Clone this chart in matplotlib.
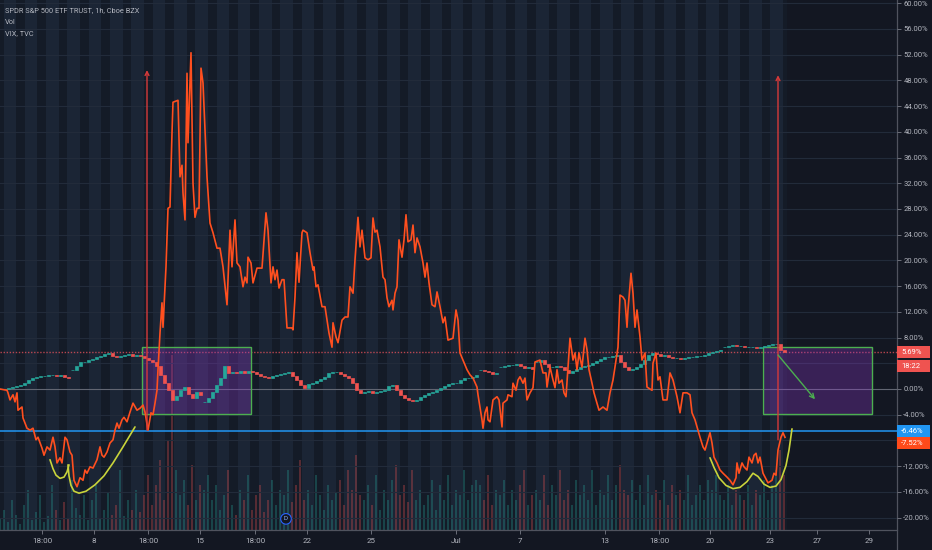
import matplotlib
matplotlib.use('Agg')
import matplotlib.pyplot as plt
import numpy as np
from matplotlib.patches import Rectangle
from matplotlib.lines import Line2D
from matplotlib.transforms import blended_transform_factory

plt.rcParams['font.family'] = ['Roboto', 'DejaVu Sans']

# ---------------- data ----------------
# VIX % change (line), time position in chart time units
vix_time = [0, 7, 8, 10, 13, 15, 17, 18, 22, 23,
            27, 30, 33, 36, 38, 42, 44, 47, 50, 53,
            55, 57, 60, 62, 65, 67, 70, 72, 74, 77,
            80, 83, 85, 87, 90, 93, 97, 100, 102, 104,
            107, 110, 113, 115, 117, 119, 122, 124, 127, 130,
            133, 137, 140, 143, 145, 148, 151, 153, 155, 157,
            158, 160, 162, 163, 166, 168, 170, 172, 173, 178,
            180, 182, 183, 185, 187, 188, 191, 193, 195, 197,
            199, 201, 203, 207, 210, 213, 217, 220, 223, 227,
            230, 232, 235, 237, 240, 243, 245, 247, 248, 251,
            253, 257, 262, 266, 268, 271, 273, 275, 277, 279,
            282, 284, 287, 292, 293, 295, 297, 299, 302, 303,
            307, 310, 313, 314, 316, 318, 322, 325, 327, 329,
            332, 333, 336, 338, 342, 345, 348, 350, 353, 355,
            358, 360, 362, 365, 368, 371, 373, 375, 377, 380,
            383, 385, 387, 389, 392, 393, 395, 397, 399, 402,
            404, 406, 408, 411, 413, 415, 417, 420, 423, 425,
            427, 429, 432, 435, 437, 440, 443, 445, 448, 453,
            456, 458, 460, 463, 467, 470, 473, 477, 478, 480,
            482, 483, 485, 487, 488, 490, 493, 497, 499, 502,
            503, 507, 508, 512, 513, 516, 518, 520, 523, 525,
            527, 530, 533, 535, 540, 543, 546, 547, 550, 553,
            555, 557, 559, 562, 564, 566, 568, 570, 573, 575,
            577, 579, 582, 585, 587, 589, 592, 594, 597, 599,
            603, 607, 610, 613, 616, 618, 620, 623, 625, 627,
            628, 631, 633, 635, 637, 640, 642, 645, 647, 652,
            653, 656, 658, 660, 663, 667, 670, 673, 677, 680,
            683, 687, 690, 692, 695, 698, 700, 703, 705, 707,
            710, 712, 714, 717, 720, 723, 727, 730, 733, 736,
            737, 739, 742, 744, 747, 749, 752, 754, 756, 758,
            760, 763, 765, 768, 772, 774, 776, 778, 781, 783, 785]
vix_pct = [0.0, -0.2, -0.6, -1.7, -0.9, -2.0, -0.6, -3.3, -2.8, -4.5,
           -6.1, -6.4, -6.1, -7.9, -7.5, -9.2, -10.3, -9.0, -9.5, -7.5,
           -9.0, -11.5, -10.7, -11.5, -7.5, -7.9, -9.8, -10.3, -14.2, -15.2,
           -13.8, -14.2, -12.6, -13.1, -12.1, -12.3, -11.0, -9.0, -10.3, -10.6,
           -9.8, -8.4, -7.9, -6.4, -5.3, -6.1, -4.8, -4.4, -5.1, -3.6,
           -2.2, -3.3, -3.0, -2.5, -3.6, -6.4, -3.7, -4.0, -2.2, -0.2,
           3.0, 8.7, 13.4, 9.6, 19.0, 28.1, 28.3, 39.8, 44.6, 44.9,
           33.0, 34.8, 30.5, 26.3, 49.1, 38.3, 52.3, 32.0, 26.7, 28.1,
           28.1, 49.9, 47.6, 33.0, 25.8, 24.3, 21.9, 21.9, 19.0, 13.1,
           24.7, 19.0, 26.3, 19.6, 19.0, 15.9, 17.4, 16.5, 20.5, 19.6,
           16.5, 18.8, 18.8, 27.4, 24.7, 16.5, 19.0, 17.0, 18.5, 15.7,
           17.0, 17.0, 9.5, 9.5, 9.2, 14.3, 21.2, 16.6, 24.3, 24.7,
           24.3, 21.2, 18.5, 19.0, 15.9, 16.2, 12.8, 12.8, 10.7, 8.7,
           6.5, 10.3, 8.1, 7.2, 10.7, 11.2, 11.2, 15.9, 14.9, 20.1,
           26.7, 22.1, 24.7, 20.4, 20.1, 20.4, 26.6, 24.4, 24.7, 22.1,
           17.4, 17.0, 14.2, 12.8, 13.8, 12.3, 14.9, 15.9, 23.2, 20.5,
           23.2, 27.1, 22.9, 23.2, 25.5, 21.2, 23.5, 22.1, 19.6, 17.4,
           19.6, 16.5, 13.1, 12.8, 15.1, 12.8, 10.3, 11.2, 7.6, 7.9,
           12.3, 10.7, 5.6, 4.5, 3.0, 2.2, 1.7, 0.3, -0.9, -2.8,
           -4.8, -6.1, -3.7, -2.8, -4.8, -5.1, -1.7, -1.2, -1.7, -5.9,
           -2.2, -1.7, -0.9, -1.2, 0.9, -0.2, 1.4, 1.9, 0.9, 1.7,
           -1.7, -0.6, 0.2, 4.2, 4.5, 2.5, 2.5, 0.3, 3.4, 1.4,
           0.2, 3.0, 0.9, 1.4, -0.6, -1.2, 3.4, 7.9, 4.5, 5.6,
           3.0, 5.6, 3.4, 7.9, 6.1, 3.0, 0.9, -0.6, -2.2, -3.3,
           -2.8, -3.3, -0.6, 1.4, 4.5, 6.5, 14.6, 14.3, 13.8, 9.6,
           12.3, 18.0, 14.9, 9.6, 12.3, 8.1, 4.5, 5.6, 0.3, -0.2,
           4.0, 5.6, 1.4, 1.9, -1.7, -1.7, 2.5, 1.4, -1.2, -3.7,
           -0.6, -0.6, -0.9, -3.7, -4.8, -6.4, -7.5, -9.0, -9.5, -8.4,
           -6.8, -8.4, -10.6, -11.5, -12.6, -13.1, -13.7, -14.2, -14.9, -13.8,
           -11.5, -13.1, -11.5, -12.1, -12.6, -10.6, -11.5, -10.3, -10.0, -11.5,
           -10.6, -13.1, -13.7, -14.6, -14.2, -13.1, -13.4, -9.5, -7.5, -6.8, -7.52]

# SPY hourly closes (% change), grouped by session (gaps between sessions)
spy_session_start = [0, 72, 204, 480, 500, 536, 724]
bar_step = 4
spy_s1 = [0.0, 0.0, 0.2, 0.3, 0.5, 0.6, 0.9, 1.4, 1.7, 1.9, 2.0, 2.0, 2.2, 2.2, 2.0, 2.2, 1.9, 1.7]
spy_s2 = [3.0, 3.6, 4.2, 4.2, 4.5, 4.7, 5.0, 5.1, 5.4, 5.6,
          5.1, 5.0, 5.1, 5.3, 5.4, 5.1, 5.3, 5.1, 4.8, 4.5,
          4.2, 3.6, 2.2, 0.9, -0.2, -1.7, -1.1, -0.2, 0.3, -0.8,
          -1.4, -0.5, -0.9]
spy_s3 = [-2.0, -1.4, -0.5, 0.6, 1.7, 3.6, 2.5, 2.6, 2.5, 2.8,
          2.5, 2.8, 2.6, 2.3, 2.0, 1.9, 1.7, 2.0, 2.2, 2.3,
          2.5, 2.6, 2.0, 1.4, 0.6, 0.2, 0.8, 0.9, 1.2, 1.6,
          1.9, 2.5, 2.6, 2.6, 2.3, 2.0, 1.7, 0.9, -0.2, -0.6,
          -0.5, -0.3, -0.6, -0.5, -0.3, -0.2, 0.5, 0.6, -0.2, -0.9,
          -1.4, -1.7, -1.9, -1.7, -1.2, -0.9, -0.6, -0.5, -0.2, 0.2,
          0.5, 0.8, 0.9, 0.9, 1.4, 1.7, 1.7, 1.9, 2.2]
spy_s4 = [3.0, 2.8, 2.6, 2.3, 2.5]
spy_s5 = [3.4, 3.6, 3.7, 3.7, 3.9, 3.6, 3.3, 3.4, 3.1]
spy_s6 = [4.2, 4.5, 3.9, 3.4, 3.4, 3.6, 3.4, 3.0, 2.5, 2.8,
          3.1, 3.4, 3.6, 3.7, 4.0, 4.4, 4.7, 5.0, 5.0, 5.1,
          5.3, 4.2, 3.4, 3.0, 3.1, 3.4, 3.9, 4.5, 5.3, 5.6,
          5.4, 5.1, 5.3, 5.0, 4.8, 4.8, 4.7, 4.8, 5.0, 5.0,
          5.1, 5.1, 5.3, 5.6, 5.8, 5.9, 6.1]
spy_s7 = [6.5, 6.7, 6.8, 6.7, 6.7, 6.5, 6.5, 6.5, 6.4, 6.5, 6.7, 6.8, 7.0, 7.0, 6.1, 5.69]

# SPY volume (bar heights, arbitrary units) per session
vol_s1 = [12, 20, 8, 30, 15, 6, 25, 40, 10, 18, 35, 8, 14, 45, 20, 10, 28, 12]
vol_s2 = [50, 22, 15, 35, 10, 30, 45, 12, 20, 38, 15, 25, 60, 14, 30, 20, 40, 18, 35, 55,
          25, 45, 70, 30, 90, 175, 60, 35, 50, 25, 65, 30, 45]
vol_s3 = [40, 55, 30, 45, 20, 35, 60, 25, 15, 40, 30, 55, 20, 35, 45, 18, 30, 50, 25, 40,
          35, 60, 28, 45, 70, 30, 40, 25, 55, 35, 20, 45, 30, 38, 50, 25, 60, 40, 75, 35,
          30, 45, 25, 55, 20, 40, 30, 50, 65, 35, 45, 28, 60, 30, 40, 25, 35, 50, 20, 45,
          30, 55, 25, 40, 35, 60, 30, 45, 50]
vol_s4 = [45, 30, 55, 25, 40]
vol_s5 = [35, 50, 25, 40, 30, 45, 60, 25, 35]
vol_s6 = [40, 30, 55, 25, 45, 35, 60, 30, 40, 25, 50, 35, 45, 30, 60, 25, 40, 35, 55, 30,
          45, 65, 40, 35, 50, 30, 45, 25, 55, 35, 40, 30, 50, 25, 45, 35, 40, 30, 55, 25,
          35, 45, 30, 50, 40, 55, 35]
vol_s7 = [30, 45, 25, 40, 35, 30, 45, 25, 40, 35, 50, 30, 45, 60, 80, 55]

# axis labels
time_ticks = [42, 94, 148, 200, 255, 307, 371, 456, 520, 605, 659, 710, 770, 817, 869]
time_labels = ['18:00', '8', '18:00', '15', '18:00', '22', '25', 'Jul', '7', '13',
               '18:00', '20', '23', '27', '29']
pct_ticks = [60, 56, 52, 48, 44, 40, 36, 32, 28, 24, 20, 16, 12, 8, 0, -4, -12, -16, -20]
grid_levels = list(range(-20, 61, 4))

# horizontal levels / last values
spy_last = 5.69
blue_level = -6.46
vix_last = -7.52

# annotations (drawings)
box_left_time = [142, 763]
box_width_time = 109
box_low, box_high = -3.9, 6.5
arrow_times = [147, 778]
arrow_low = [-6.4, -7.9]
arrow_high = [49.6, 48.8]
green_arrow_time = [778, 815]
green_arrow_pct = [5.3, -1.6]
yellow1_t = [50, 53, 56, 60, 64, 67, 69]
yellow1_p = [-11.0, -12.4, -13.4, -13.9, -13.7, -12.9, -11.8]
yellow2_t = [68, 69, 71, 74, 79, 86, 95, 104, 113, 123, 135]
yellow2_p = [-11.8, -13.5, -15.0, -15.9, -16.2, -15.9, -14.9, -13.5, -11.5, -9.0, -5.9]
yellow3_t = [710, 714, 719, 726, 733, 740, 747, 753, 758, 764, 770, 776, 781, 786, 789, 792]
yellow3_p = [-10.7, -12.2, -13.8, -15.0, -15.5, -15.3, -14.4, -13.1, -13.6, -14.8, -15.3, -15.1, -14.1, -11.9, -9.5, -6.2]

# ---------------- figure ----------------
W, H = 932, 550
BG = '#131722'
TXT = '#b2b5be'
fig = plt.figure(figsize=(W / 100, H / 100), dpi=100, facecolor=BG)
AX_W = 897
rect = [0, 20 / H, AX_W / W, 530 / H]
ax_bg = fig.add_axes(rect, zorder=1)
ax = fig.add_axes(rect, zorder=2)
ax.patch.set_alpha(0)
ax_bg.set_facecolor(BG)
for a in (ax, ax_bg):
    a.set_xlim(0, AX_W)
    for s in a.spines.values():
        s.set_visible(False)
ax_bg.set_ylim(0, 530)
ax_bg.set_xticks([])
ax_bg.set_yticks([])
ymin, ymax = -21.93, 60.5
ax.set_ylim(ymin, ymax)

# session background stripes (extended hours lighter, regular session darker)
day_w = 21.3
last_bar = 787
ax_bg.axvspan(0, last_bar, color='#1b2535', lw=0, zorder=0)
d0 = 94 - 5 * day_w
k = 0
while d0 + k * day_w < last_bar:
    s = d0 + k * day_w
    a0, a1 = max(s + 7.3, 0), min(s + 16.0, last_bar)
    if a1 > a0:
        ax_bg.axvspan(a0, a1, color='#141b27', lw=0, zorder=0.5)
    k += 1

# volume + candles
sessions = [spy_s1, spy_s2, spy_s3, spy_s4, spy_s5, spy_s6, spy_s7]
vols = [vol_s1, vol_s2, vol_s3, vol_s4, vol_s5, vol_s6, vol_s7]
UP, DN = '#26a69a', '#ef5350'
for start, closes, vv in zip(spy_session_start, sessions, vols):
    xs = start + bar_step * np.arange(len(closes))
    opens = [closes[0]] + closes[:-1]
    for x, o, c, v in zip(xs, opens, closes, vv):
        col = UP if c >= o else DN
        ax_bg.bar(x, v, width=1.7, color=col, alpha=0.3, lw=0, zorder=1)
        ax.bar(x, c - o, bottom=o, width=3.0, color=col, edgecolor=col, lw=0.5, zorder=4)

# grid
for g in grid_levels:
    ax.axhline(g, color='#222b3a', lw=0.8, zorder=0.5)

# level lines
ax.axhline(0, color='#787b86', lw=0.8, alpha=0.75, zorder=1)
ax.axhline(spy_last, color='#e0505a', lw=1.0, ls=(0, (1, 1.2)), alpha=0.8, zorder=1)
ax.axhline(blue_level, color='#2196f3', lw=1.1, zorder=1)

# boxes
for bx in box_left_time:
    ax.add_patch(Rectangle((bx, box_low), box_width_time, box_high - box_low,
                           facecolor=(0.55, 0.22, 0.78, 0.32), edgecolor='#4caf50', lw=1.0, zorder=3))

# VIX line
ax.plot(vix_time, vix_pct, color='#ff4f1f', lw=1.2, zorder=6, solid_joinstyle='round')

# red vertical arrows
for t, lo, hi in zip(arrow_times, arrow_low, arrow_high):
    ax.annotate('', xy=(t, hi), xytext=(t, lo),
                arrowprops=dict(arrowstyle='->', color='#d63a3a', lw=1.0, shrinkA=0, shrinkB=0,
                                mutation_scale=7), zorder=7)

# green arrow
ax.annotate('', xy=(green_arrow_time[1], green_arrow_pct[1]), xytext=(green_arrow_time[0], green_arrow_pct[0]),
            arrowprops=dict(arrowstyle='->', color='#4caf50', lw=1.0, shrinkA=0, shrinkB=0, mutation_scale=8),
            zorder=7)

# yellow curves
for tt, pp in ((yellow1_t, yellow1_p), (yellow2_t, yellow2_p), (yellow3_t, yellow3_p)):
    ax.plot(tt, pp, color='#c9d43b', lw=1.2, zorder=7, solid_joinstyle='round', solid_capstyle='round')

# "D" marker
ax.text(286, -20.2, 'D', ha='center', va='center', fontsize=4.5, color='#8fb3ff', zorder=8,
        bbox=dict(boxstyle='circle,pad=0.45', fc=BG, ec='#2962ff', lw=0.8))

# axes ticks
ax.set_xticks(time_ticks)
ax.set_xticklabels(time_labels)
ax.tick_params(axis='x', colors=TXT, labelsize=5.8, length=3, pad=3, width=0.6)
ax.tick_params(axis='x', color='#787b86')
ax.yaxis.tick_right()
ax.set_yticks(pct_ticks)
ax.set_yticklabels(['%.2f%%' % v for v in pct_ticks])
ax.tick_params(axis='y', colors=TXT, labelsize=5.5, length=3, pad=1.5, width=0.6)
ax.tick_params(axis='y', color='#787b86')

# axis border lines
fig.add_artist(Line2D([0, AX_W / W], [20 / H, 20 / H], transform=fig.transFigure, color='#50535e', lw=0.9))
fig.add_artist(Line2D([AX_W / W, AX_W / W], [0, 1], transform=fig.transFigure, color='#50535e', lw=0.9))

# right price labels
tr = blended_transform_factory(fig.transFigure, ax.transData)
hbox = 12 / (530 / (ymax - ymin))
labels = [(spy_last, '5.69%', '#ef5350'),
          (spy_last - hbox - 0.25, '18:22', '#ef5350'),
          (blue_level, '-6.46%', '#2196f3'),
          (blue_level - hbox - 0.1, '-7.52%', '#ff4a1a')]
for y, s, c in labels:
    ax.add_patch(Rectangle((AX_W / W, y - hbox / 2), 33 / W, hbox, transform=tr, facecolor=c,
                           edgecolor='none', clip_on=False, zorder=20))
    ax.text(901 / W, y, s, transform=tr, ha='left', va='center', fontsize=5.5, color='white',
            clip_on=False, zorder=21)

# legend text
for i, s in enumerate(['SPDR S&P 500 ETF TRUST, 1h, Cboe BZX', 'Vol', 'VIX, TVC']):
    fig.text(5 / W, 1 - (11 + 11.5 * i) / H, s, ha='left', va='center', fontsize=5.3, color=TXT)

fig.savefig('out.png', dpi=100, facecolor=BG)
